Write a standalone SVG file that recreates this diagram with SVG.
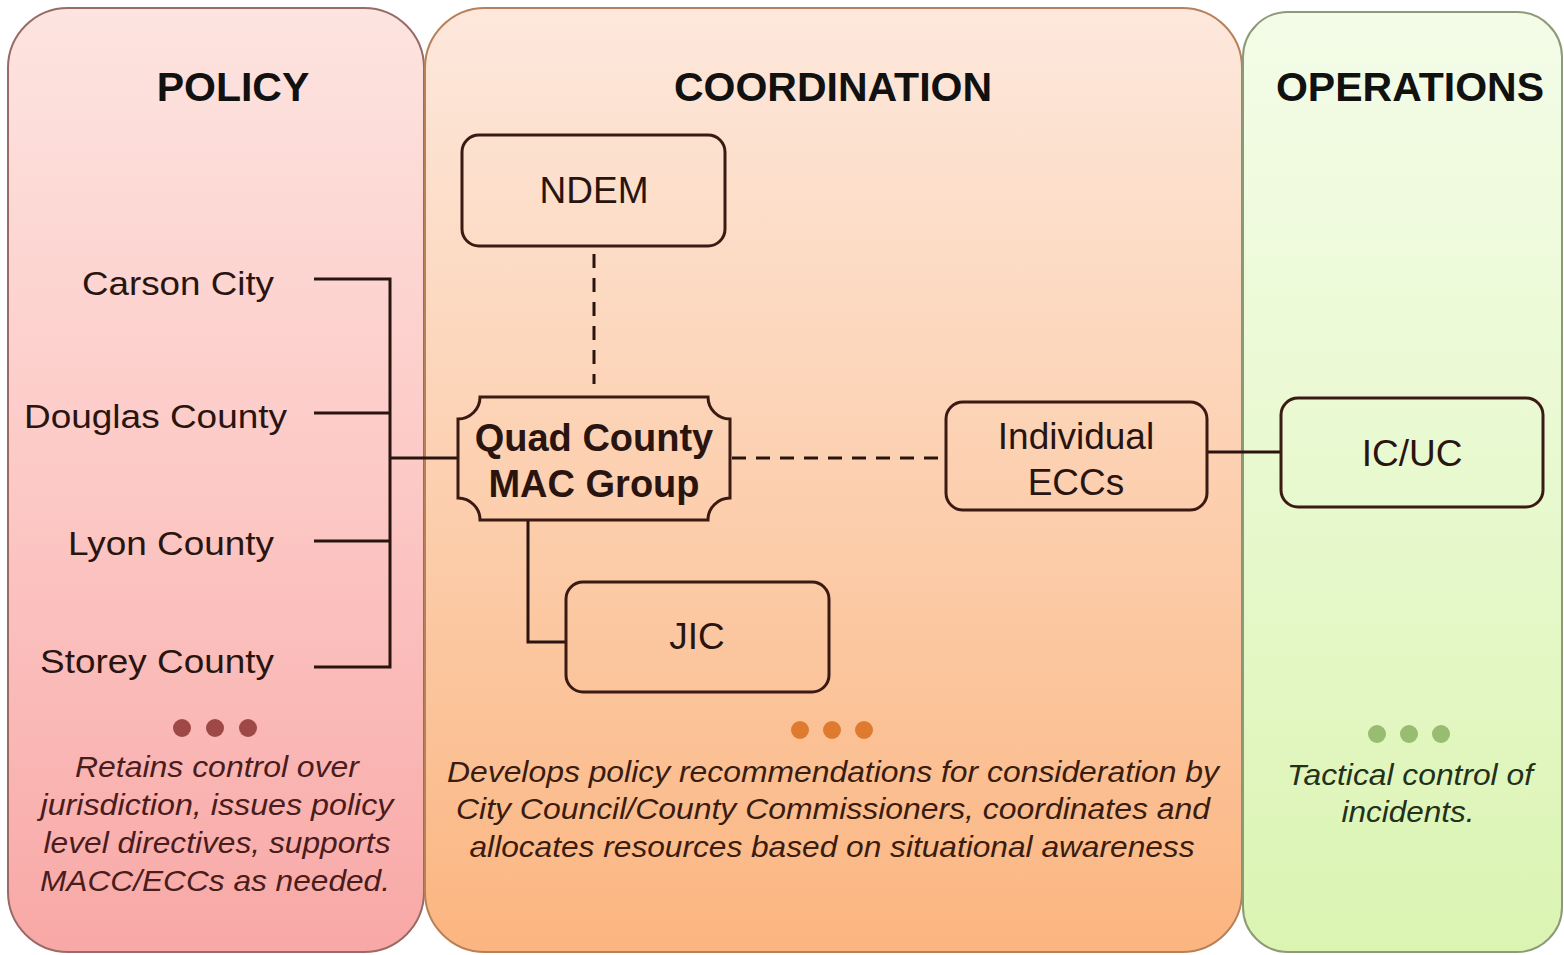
<svg xmlns="http://www.w3.org/2000/svg" width="1564" height="955" viewBox="0 0 1564 955">
<defs>
<linearGradient id="gPol" x1="0" y1="0" x2="0" y2="1">
<stop offset="0" stop-color="#fde4e0"/><stop offset="0.5" stop-color="#fcc9c6"/><stop offset="1" stop-color="#f8a8a6"/>
</linearGradient>
<linearGradient id="gCoo" x1="0" y1="0" x2="0" y2="1">
<stop offset="0" stop-color="#fde8dc"/><stop offset="0.5" stop-color="#fcd0b0"/><stop offset="1" stop-color="#fbb580"/>
</linearGradient>
<linearGradient id="gOps" x1="0" y1="0" x2="0" y2="1">
<stop offset="0" stop-color="#f4fce8"/><stop offset="0.5" stop-color="#e8f9cf"/><stop offset="1" stop-color="#dbf4b2"/>
</linearGradient>
<style>
.title{font-family:"Liberation Sans",Arial,sans-serif;font-weight:bold;font-size:41px;fill:#111;text-anchor:middle}
.lbl{font-family:"Liberation Sans",Arial,sans-serif;font-size:34px;fill:#2a1410}
.node{fill:none;stroke:#3a1a12;stroke-width:3}
.ntxt{font-family:"Liberation Sans",Arial,sans-serif;font-size:37px;fill:#2a1410;text-anchor:middle}
.btxt{font-family:"Liberation Sans",Arial,sans-serif;font-size:38px;font-weight:bold;fill:#2a1410;text-anchor:middle}
.desc{font-family:"Liberation Sans",Arial,sans-serif;font-style:italic;font-size:30px;text-anchor:middle}
.line{fill:none;stroke:#2a1410;stroke-width:3}
.dash{fill:none;stroke:#2a1410;stroke-width:3;stroke-dasharray:14 10}
</style>
</defs>
<rect width="1564" height="955" fill="#ffffff"/>
<g id="panel-policy">
<rect x="8" y="8" width="416" height="944" rx="60" fill="url(#gPol)" stroke="#9a6a66" stroke-width="2"/>
<text class="title" x="233" y="101">POLICY</text>
<circle cx="182" cy="728" r="9" fill="#9e4848"/><circle cx="215" cy="728" r="9" fill="#9e4848"/><circle cx="248" cy="728" r="9" fill="#9e4848"/>
<g class="desc" fill="#4a1c1c">
<text x="217" y="777" textLength="284" lengthAdjust="spacingAndGlyphs">Retains control over</text>
<text x="217" y="815" textLength="353" lengthAdjust="spacingAndGlyphs">jurisdiction, issues policy</text>
<text x="217" y="853" textLength="347" lengthAdjust="spacingAndGlyphs">level directives, supports</text>
<text x="215" y="891" textLength="350" lengthAdjust="spacingAndGlyphs">MACC/ECCs as needed.</text>
</g>
</g>
<g id="panel-coordination">
<rect x="425" y="8" width="817" height="944" rx="60" fill="url(#gCoo)" stroke="#b88058" stroke-width="2"/>
<text class="title" x="833" y="101">COORDINATION</text>
<circle cx="800" cy="730" r="9" fill="#e07a2e"/><circle cx="832" cy="730" r="9" fill="#e07a2e"/><circle cx="864" cy="730" r="9" fill="#e07a2e"/>
<g class="desc" fill="#3a1c10">
<text x="833" y="782" textLength="772" lengthAdjust="spacingAndGlyphs">Develops policy recommendations for consideration by</text>
<text x="833" y="819" textLength="754" lengthAdjust="spacingAndGlyphs">City Council/County Commissioners, coordinates and</text>
<text x="832" y="857" textLength="725" lengthAdjust="spacingAndGlyphs">allocates resources  based on situational awareness</text>
</g>
</g>
<g id="panel-operations">
<rect x="1243" y="12" width="319" height="940" rx="45" fill="url(#gOps)" stroke="#8c9a78" stroke-width="2"/>
<text class="title" x="1410" y="101">OPERATIONS</text>
<circle cx="1377" cy="734" r="9" fill="#98bc70"/><circle cx="1409" cy="734" r="9" fill="#98bc70"/><circle cx="1441" cy="734" r="9" fill="#98bc70"/>
<g class="desc" fill="#23301a">
<text x="1410" y="785" textLength="246" lengthAdjust="spacingAndGlyphs">Tactical control of</text>
<text x="1408" y="822" textLength="133" lengthAdjust="spacingAndGlyphs">incidents.</text>
</g>
</g>
<g id="connectors">
<path class="line" d="M314,279 H390 V667 H314 M314,413 H390 M314,541 H390 M390,458 H458"/>
<path class="dash" d="M594,254 V384"/>
<path class="dash" d="M732,458 H944"/>
<path class="line" d="M528,521 V642 H566"/>
<path class="line" d="M1207,452 H1281"/>
</g>
<g id="node-carson"><text class="lbl" x="274" y="295" text-anchor="end" textLength="192" lengthAdjust="spacingAndGlyphs">Carson City</text></g>
<g id="node-douglas"><text class="lbl" x="287" y="428" text-anchor="end" textLength="263" lengthAdjust="spacingAndGlyphs">Douglas County</text></g>
<g id="node-lyon"><text class="lbl" x="274" y="555" text-anchor="end" textLength="206" lengthAdjust="spacingAndGlyphs">Lyon County</text></g>
<g id="node-storey"><text class="lbl" x="274" y="673" text-anchor="end" textLength="234" lengthAdjust="spacingAndGlyphs">Storey County</text></g>
<g id="node-ndem">
<rect class="node" x="462" y="135" width="263" height="111" rx="17"/>
<text class="ntxt" x="594" y="203">NDEM</text>
</g>
<g id="node-mac">
<path class="node" d="M480,397 H708 A22,22 0 0 0 730,419 V498 A22,22 0 0 0 708,520 H480 A22,22 0 0 0 458,498 V419 A22,22 0 0 0 480,397 Z"/>
<text class="btxt" x="594" y="451">Quad County</text>
<text class="btxt" x="594" y="497">MAC Group</text>
</g>
<g id="node-jic">
<rect class="node" x="566" y="582" width="263" height="110" rx="17"/>
<text class="ntxt" x="697" y="649">JIC</text>
</g>
<g id="node-eccs">
<rect class="node" x="946" y="402" width="261" height="108" rx="17"/>
<text class="ntxt" x="1076" y="449">Individual</text>
<text class="ntxt" x="1076" y="495">ECCs</text>
</g>
<g id="node-icuc">
<rect class="node" x="1281" y="398" width="262" height="109" rx="17"/>
<text class="ntxt" x="1412" y="466">IC/UC</text>
</g>
</svg>
